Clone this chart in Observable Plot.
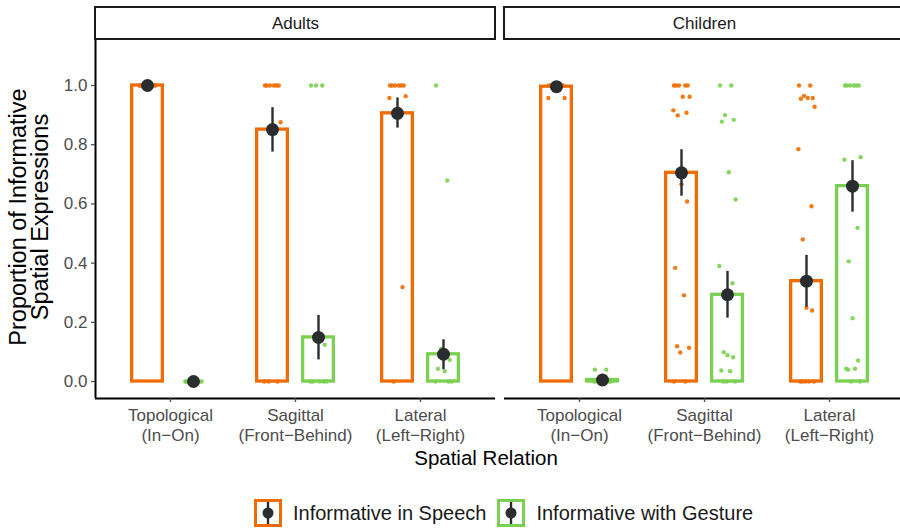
<!DOCTYPE html>
<html><head><meta charset="utf-8">
<script src="https://cdn.jsdelivr.net/npm/d3@7"></script>
<script src="https://cdn.jsdelivr.net/npm/@observablehq/plot@0.6"></script>
<style>
html,body{margin:0;padding:0;background:#fff;overflow:hidden;}
#wrap{position:relative;width:900px;height:529px;overflow:hidden;font-family:"Liberation Sans",Arial,Helvetica,sans-serif;}
#chart{position:absolute;left:0;top:0;width:905px;}
#chart svg{max-width:none !important;}
#ytitle{position:absolute;left:29px;top:217px;transform:translate(-50%,-50%) rotate(-90deg);white-space:nowrap;text-align:center;font-size:23.5px;line-height:22px;color:#000;}
#xtitle{position:absolute;left:486px;top:458px;transform:translate(-50%,-50%);white-space:nowrap;font-size:20.5px;color:#000;}
#legend{position:absolute;left:254px;top:499px;display:flex;align-items:center;font-size:20px;color:#1a1a1a;}
#legend .item{display:flex;align-items:center;margin-right:11px;}
#legend svg{margin-right:11px;display:block;}
</style>
</head><body>
<div id="wrap">
  <div id="chart"></div>
  <div id="ytitle">Proportion of Informative<br>Spatial Expressions</div>
  <div id="xtitle">Spatial Relation</div>
  <div id="legend"></div>
</div>
<script>
// ---- data ----
const groups = ["Adults", "Children"];
const relations = ["Topological\n(In−On)", "Sagittal\n(Front−Behind)", "Lateral\n(Left−Right)"];
const types = ["Informative in Speech", "Informative with Gesture"];
const colors = ["#EF6C00", "#7AD151"];
const yTicks = [0, 0.2, 0.4, 0.6, 0.8, 1.0];

// means and error-bar limits per relation
const adultSpeechMean = [1.0, 0.851, 0.906];
const adultSpeechLo   = [1.0, 0.775, 0.856];
const adultSpeechHi   = [1.0, 0.925, 0.958];
const adultGestureMean = [0.0, 0.149, 0.092];
const adultGestureLo   = [0.0, 0.073, 0.040];
const adultGestureHi   = [0.0, 0.223, 0.141];
const childSpeechMean = [0.996, 0.705, 0.339];
const childSpeechLo   = [0.992, 0.626, 0.251];
const childSpeechHi   = [1.0, 0.783, 0.426];
const childGestureMean = [0.005, 0.293, 0.660];
const childGestureLo   = [0.0, 0.214, 0.572];
const childGestureHi   = [0.010, 0.372, 0.746];

// individual participant proportions per relation
const adultSpeechPts = [
  [1, 1, 1, 1, 1, 1, 1, 1],
  [1, 1, 1, 1, 1, 1, 0.876, 0, 0, 0],
  [1, 1, 1, 1, 1, 1, 0.964, 0.958, 0.319, 0]
];
const adultGesturePts = [
  [0, 0, 0, 0, 0, 0, 0, 0],
  [1, 1, 1, 0.124, 0, 0, 0, 0, 0],
  [1, 0.679, 0.110, 0.073, 0.043, 0.035, 0, 0, 0]
];
const childSpeechPts = [
  [1, 1, 1, 1, 1, 1, 0.958, 0.958],
  [1, 1, 1, 1, 1, 0.962, 0.962, 0.916, 0.908, 0.899, 0.666, 0.608, 0.384, 0.291, 0.119, 0.114, 0.098, 0, 0],
  [1, 1, 0.965, 0.958, 0.955, 0.958, 0.928, 0.785, 0.592, 0.480, 0.249, 0.240, 0, 0, 0, 0, 0]
];
const childGesturePts = [
  [0.04, 0.04, 0, 0, 0, 0, 0, 0],
  [1, 1, 0.90, 0.884, 0.878, 0.707, 0.615, 0.390, 0.332, 0.099, 0.089, 0.082, 0.037, 0.035, 0, 0, 0],
  [1, 1, 1, 1, 1, 1, 0.758, 0.749, 0.519, 0.406, 0.214, 0.071, 0.043, 0.043, 0.040, 0, 0]
];

// ---- layout constants (style) ----
const dodge = [-0.184, 0.184];
const halfW = 0.123;
const jit = [-0.06, 0.03, -0.02, 0.05, -0.045, 0.01, 0.065, -0.065, 0.04, -0.03, 0.0, 0.045, -0.05, 0.02, -0.035, 0.06, -0.01, 0.03, -0.06];

// ---- build tables ----
const summarySrc = {
  Adults: [[adultSpeechMean, adultSpeechLo, adultSpeechHi], [adultGestureMean, adultGestureLo, adultGestureHi]],
  Children: [[childSpeechMean, childSpeechLo, childSpeechHi], [childGestureMean, childGestureLo, childGestureHi]]
};
const ptsSrc = {
  Adults: [adultSpeechPts, adultGesturePts],
  Children: [childSpeechPts, childGesturePts]
};
const summary = [];
const points = [];
for (const g of groups) {
  types.forEach((t, ti) => {
    const [m, lo, hi] = summarySrc[g][ti];
    relations.forEach((r, ri) => {
      summary.push({group: g, type: t, ti, rel: ri + 1, mean: m[ri], lo: lo[ri], hi: hi[ri]});
      ptsSrc[g][ti][ri].forEach((v, k) => {
        points.push({group: g, type: t, ti, rel: ri + 1, value: v, k});
      });
    });
  });
}

const marginLeft = 95, marginRight = 1, totalW = 905;
const marginTop = 40, marginBottom = 77, height = 475;
const panelH = height - marginTop - marginBottom;
const yDomain = [-0.0574, 1.152];

const chart = Plot.plot({
  width: totalW,
  height,
  marginLeft,
  marginRight,
  marginTop,
  marginBottom,
  style: {fontFamily: "Liberation Sans, Arial, Helvetica, sans-serif", background: "white", maxWidth: "none"},
  fx: {domain: groups, range: [marginLeft, totalW - marginRight], paddingInner: 0.022, paddingOuter: 0, round: false, axis: null, label: null},
  x: {domain: [0.4, 3.6], axis: null},
  y: {domain: yDomain, axis: null},
  color: {domain: types, range: colors},
  marks: [
    // strips
    Plot.rect(groups, {fx: d => d, insetTop: -33, insetBottom: panelH + 1, fill: "white", stroke: "#1a1a1a", strokeWidth: 2}),
    Plot.text(groups, {fx: d => d, text: d => d, frameAnchor: "top", lineAnchor: "middle", dy: -17, fontSize: 17, fill: "#1a1a1a"}),
    // axes lines
    Plot.ruleY([yDomain[0]], {stroke: "black", strokeWidth: 2}),
    Plot.ruleX([0.4], {facetAnchor: "left", stroke: "black", strokeWidth: 2}),
    Plot.axisY({ticks: yTicks, tickFormat: d3.format(".1f"), tickSize: 4, tickPadding: 4, label: null, fontSize: 17, color: "#4D4D4D", strokeWidth: 1.3}),
    Plot.axisX({ticks: [1, 2, 3], tickFormat: i => relations[i - 1], tickSize: 4, tickPadding: 4, label: null, fontSize: 17, color: "#4D4D4D", strokeWidth: 1.3, lineHeight: 1.2}),
    // bars
    Plot.rect(summary, {
      fx: "group",
      x1: d => d.rel + dodge[d.ti] - halfW,
      x2: d => d.rel + dodge[d.ti] + halfW,
      y1: () => 0,
      y2: "mean",
      fill: "none",
      stroke: "type",
      strokeWidth: 3.3
    }),
    // individual points
    Plot.dot(points, {
      fx: "group",
      x: d => d.rel + dodge[d.ti] + jit[d.k % jit.length],
      y: "value",
      r: 2.2,
      fill: "type",
      fillOpacity: 0.9
    }),
    // error bars
    Plot.ruleX(summary, {fx: "group", x: d => d.rel + dodge[d.ti], y1: "lo", y2: "hi", stroke: "#2A2D30", strokeWidth: 2.4}),
    // means
    Plot.dot(summary, {fx: "group", x: d => d.rel + dodge[d.ti], y: "mean", r: 6.5, fill: "#2A2D30", stroke: "none"})
  ]
});
chart.style.maxWidth = "none";
document.getElementById("chart").appendChild(chart);

// legend
const legend = d3.select("#legend");
types.forEach((t, i) => {
  const item = legend.append("div").attr("class", "item");
  const svg = item.append("svg").attr("width", 28).attr("height", 28);
  svg.append("rect").attr("x", 1.5).attr("y", 1.5).attr("width", 25).attr("height", 25)
    .attr("fill", "white").attr("stroke", colors[i]).attr("stroke-width", 3);
  svg.append("line").attr("x1", 14).attr("x2", 14).attr("y1", 3).attr("y2", 25)
    .attr("stroke", "#2A2D30").attr("stroke-width", 2.4);
  svg.append("circle").attr("cx", 14).attr("cy", 14).attr("r", 5.5).attr("fill", "#2A2D30");
  item.append("span").text(t);
});
</script>
</body></html>
